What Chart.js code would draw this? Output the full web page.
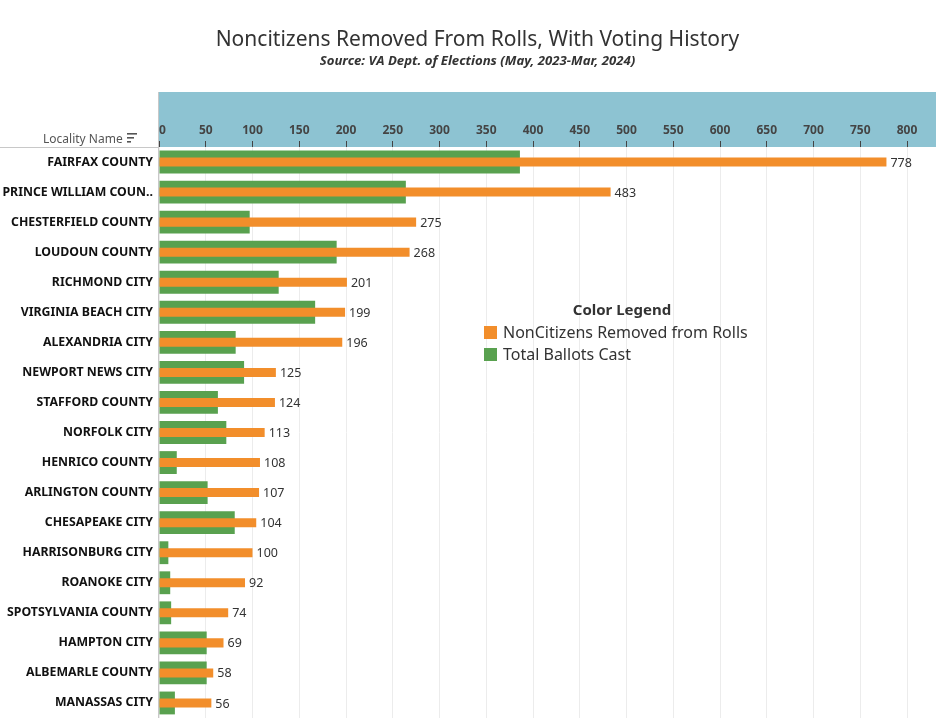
<!DOCTYPE html>
<html>
<head>
<meta charset="utf-8">
<script src="https://cdn.jsdelivr.net/npm/chart.js@4.4.1/dist/chart.umd.min.js"></script>
<style>
  body { margin: 0; background: #fff; font-family: "Noto Sans", sans-serif; }
  #wrap { position: relative; width: 936px; height: 718px; overflow: hidden; }
  #chart { position: absolute; left: 0; top: 0; }
  .title { position: absolute; left: 0; width: 955px; text-align: center; color: #333; }
  #t1 { top: 24px; font-size: 21px; }
  #t2 { top: 51px; font-size: 13.2px; font-weight: bold; font-style: italic; color: #333; }
  #hdr { position: absolute; left: 43px; top: 130px; font-size: 12px; color: #555; }
  #legend { position: absolute; left: 484px; top: 299px; color: #333; }
  #legend .lt { font-size: 15px; font-weight: bold; text-align: center; width: 276px; margin-bottom: 2px; }
  #legend .it { font-size: 16px; height: 22px; line-height: 22px; white-space: nowrap; }
  #legend .sw { display: inline-block; width: 13px; height: 13px; margin-right: 6px; vertical-align: -1px; }
</style>
</head>
<body>
<div id="wrap">
  <canvas id="chart" width="936" height="718"></canvas>
  <div class="title" id="t1">Noncitizens Removed From Rolls, With Voting History</div>
  <div class="title" id="t2">Source: VA Dept. of Elections (May, 2023-Mar, 2024)</div>
  <div id="hdr">Locality Name</div>
  <div id="legend">
    <div class="lt">Color Legend</div>
    <div class="it"><span class="sw" style="background:#F28E2B"></span>NonCitizens Removed from Rolls</div>
    <div class="it"><span class="sw" style="background:#59A14F"></span>Total Ballots Cast</div>
  </div>
</div>
<script>
const localities = ['FAIRFAX COUNTY', 'PRINCE WILLIAM COUN..', 'CHESTERFIELD COUNTY', 'LOUDOUN COUNTY',
  'RICHMOND CITY', 'VIRGINIA BEACH CITY', 'ALEXANDRIA CITY', 'NEWPORT NEWS CITY', 'STAFFORD COUNTY',
  'NORFOLK CITY', 'HENRICO COUNTY', 'ARLINGTON COUNTY', 'CHESAPEAKE CITY', 'HARRISONBURG CITY',
  'ROANOKE CITY', 'SPOTSYLVANIA COUNTY', 'HAMPTON CITY', 'ALBEMARLE COUNTY', 'MANASSAS CITY'];
const removed = [778, 483, 275, 268, 201, 199, 196, 125, 124, 113, 108, 107, 104, 100, 92, 74, 69, 58, 56];
const ballots = [386, 264, 97, 190, 128, 167, 82, 91, 63, 72, 19, 52, 81, 10, 12, 13, 51, 51, 17];
const xTicks = [0, 50, 100, 150, 200, 250, 300, 350, 400, 450, 500, 550, 600, 650, 700, 750, 800];

const frame = {
  id: 'frame',
  beforeDraw(chart) {
    const { ctx, chartArea, scales } = chart;
    const x = scales.x;
    ctx.save();
    ctx.fillStyle = '#8DC3D2';
    ctx.fillRect(chartArea.left, x.top, chartArea.right - chartArea.left, x.bottom - x.top);
    ctx.restore();
  },
  afterDraw(chart) {
    const { ctx, chartArea } = chart;
    ctx.save();
    ctx.strokeStyle = '#c8c8c8';
    ctx.lineWidth = 1;
    ctx.beginPath();
    ctx.moveTo(0, chartArea.top + 0.5);
    ctx.lineTo(chartArea.left, chartArea.top + 0.5);
    ctx.moveTo(chartArea.left - 0.5, chartArea.top - 55);
    ctx.lineTo(chartArea.left - 0.5, chartArea.bottom);
    ctx.stroke();
    // sort icon next to the header
    ctx.fillStyle = '#555';
    ctx.fillRect(127, 133, 10, 1.6);
    ctx.fillRect(127, 137, 7, 1.6);
    ctx.fillRect(127, 141, 4, 1.6);
    // value labels on the orange bars
    const meta = chart.getDatasetMeta(0);
    ctx.font = '12.5px "Noto Sans"';
    ctx.fillStyle = '#333';
    ctx.textBaseline = 'middle';
    meta.data.forEach((bar, i) => {
      ctx.fillText(removed[i], bar.x + 4, bar.y + 1);
    });
    ctx.restore();
  }
};

new Chart(document.getElementById('chart'), {
  type: 'bar',
  data: {
    labels: localities,
    datasets: [{
      label: 'NonCitizens Removed from Rolls',
      data: removed,
      backgroundColor: '#F28E2B',
      barPercentage: 0.3,
      categoryPercentage: 1,
      grouped: false
    }, {
      label: 'Total Ballots Cast',
      data: ballots,
      backgroundColor: '#59A14F',
      barPercentage: 0.76,
      categoryPercentage: 1,
      grouped: false
    }]
  },
  options: {
    indexAxis: 'y',
    responsive: false,
    animation: false,
    layout: { padding: { top: 92, bottom: 0, right: 0, left: 0 } },
    plugins: { legend: { display: false }, tooltip: { enabled: false } },
    scales: {
      x: {
        position: 'top',
        min: 0,
        max: 831,
        afterFit(s) { s.height = 55; s.paddingLeft = 0; s.paddingRight = 0; },
        afterBuildTicks(s) { s.ticks = xTicks.map(v => ({ value: v })); },
        grid: { color: '#ececec', tickColor: '#444', tickLength: 6, drawTicks: true },
        border: { display: false },
        ticks: {
          padding: 3,
          maxRotation: 0,
          autoSkip: false,
          color: '#444',
          font: { family: 'Noto Sans', size: 12, weight: 'bold' },
          callback: v => (v === 0 ? '\u20070' : String(v))
        }
      },
      y: {
        afterFit(s) { s.width = 159; s.paddingTop = 0; s.paddingBottom = 0; },
        grid: { display: false, drawTicks: false },
        border: { display: false },
        ticks: {
          padding: 6,
          autoSkip: false,
          color: '#111',
          font: { family: 'Noto Sans', size: 12.3, weight: 'bold' }
        }
      }
    }
  },
  plugins: [frame]
});
</script>
</body>
</html>
